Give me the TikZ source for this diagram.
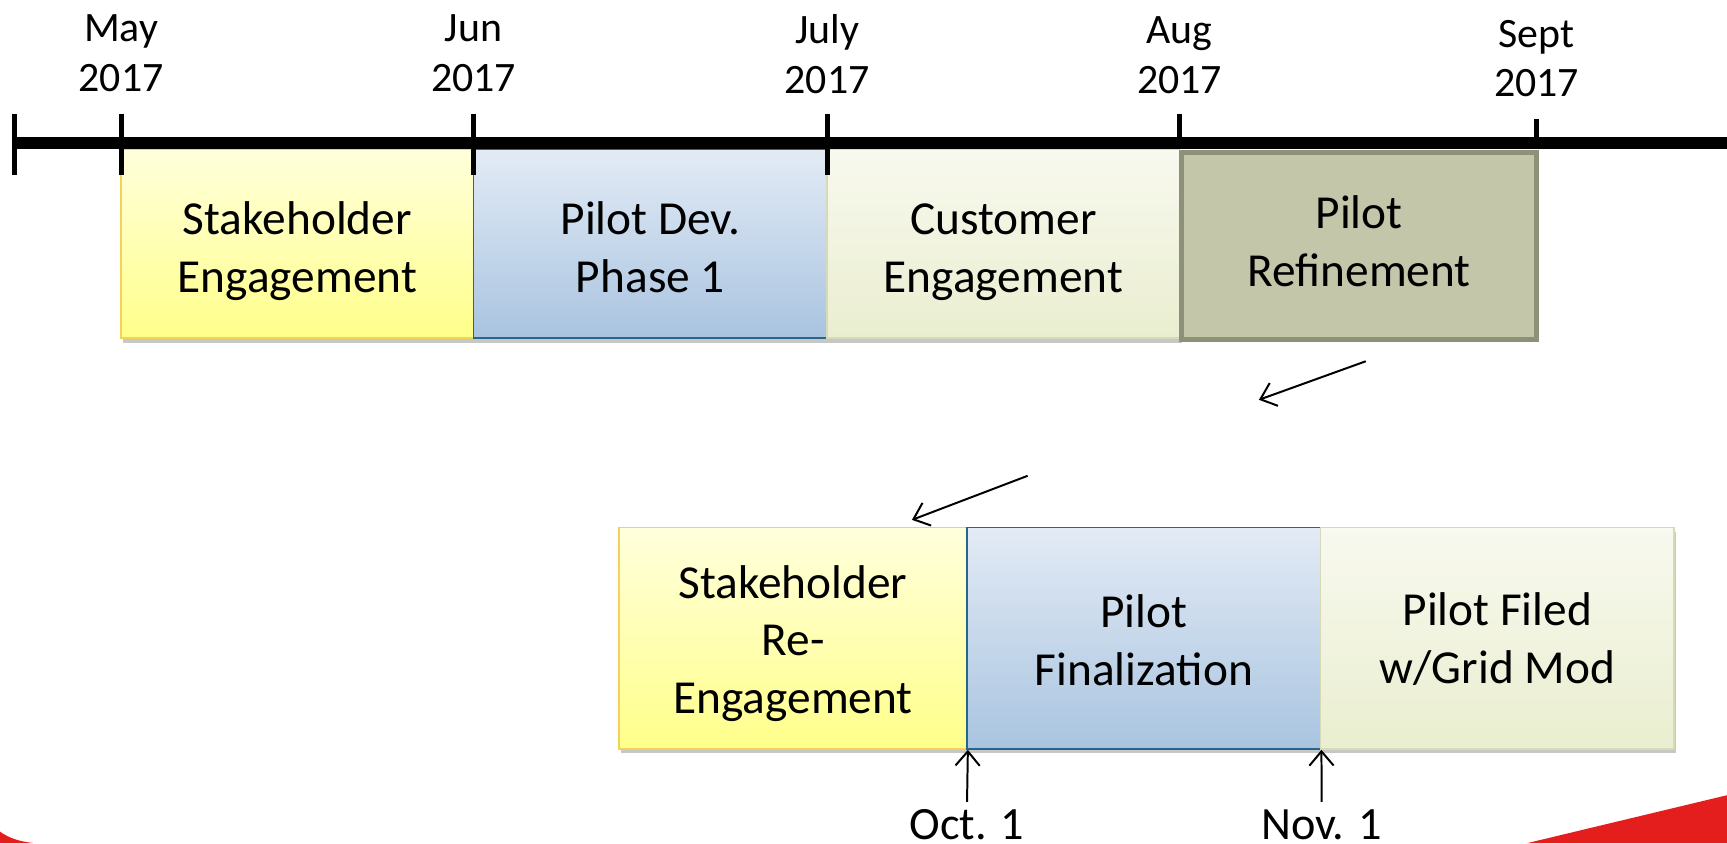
\documentclass[tikz,border=0pt]{standalone}
\usepackage{fontspec}
\setmainfont{Carlito}
\usetikzlibrary{arrows.meta,shadows}
\definecolor{ytop}{HTML}{FFFFDC}
\definecolor{ybot}{HTML}{FFFF8A}
\definecolor{ybord}{HTML}{F2D257}
\definecolor{btop}{HTML}{E3EBF5}
\definecolor{bbot}{HTML}{A9C4E0}
\definecolor{bbord}{HTML}{24678A}
\definecolor{gtop}{HTML}{F8F9EF}
\definecolor{gbot}{HTML}{EAEECF}
\definecolor{gbord}{HTML}{D6DAB8}
\definecolor{rfill}{HTML}{C4C6AA}
\definecolor{rbord}{HTML}{8E907A}
\definecolor{swoosh}{HTML}{E31E1C}
\newcommand\firstht[1]{\rule{0pt}{#1pt}}
\newcommand\lastdp{\rule[-15pt]{0pt}{0pt}}
\begin{document}
\begin{tikzpicture}[x=1pt,y=-1pt,
  boxtext/.style={font=\fontsize{43}{52.5}\selectfont, align=center, inner sep=0pt},
  shade/.style={drop shadow={shadow xshift=2pt, shadow yshift=-4pt, opacity=0.22, fill=black}},
  ybox/.style={boxtext, shade, draw=ybord, line width=1.5pt, top color=ytop, bottom color=ybot},
  bbox/.style={boxtext, shade, draw=bbord, line width=1.5pt, top color=btop, bottom color=bbot},
  gbox/.style={boxtext, shade, draw=gbord, line width=1.5pt, top color=gtop, bottom color=gbot},
  rbox/.style={boxtext, draw=rbord, line width=4.5pt, fill=rfill},
  month/.style={font=\fontsize{38}{45}\selectfont, align=center, inner sep=0pt},
  datelbl/.style={font=\fontsize{42}{50}\selectfont, inner sep=0pt, anchor=base},
  arr/.style={line width=1.8pt, -{Straight Barb[length=13pt,width=22pt,line width=1.8pt]}},
  axis/.style={line width=11pt},
  tick/.style={line width=4.5pt}
]
\useasboundingbox (0,0) rectangle (1568,765.4);

% red swoosh fragments
\fill[swoosh] (1387,765.4) -- (1568,722) -- (1568,765.4) -- cycle;
\fill[swoosh] (0,755) .. controls (8,761) and (18,764) .. (30,765.4) -- (0,765.4) -- cycle;

% top row
\node[ybox, minimum width=320pt, minimum height=172pt] (se) at (270,221) {\firstht{51.5}Stakeholder\\Engagement\lastdp};
\node[bbox, minimum width=321pt, minimum height=172pt] (pd) at (590.5,221) {\firstht{51.5}Pilot Dev.\\Phase 1\lastdp};
\node[gbox, minimum width=320pt, minimum height=172pt] (ce) at (911,221) {\firstht{51.5}Customer\\Engagement\lastdp};
\node[rbox, minimum width=322pt, minimum height=170pt] (pr) at (1234,223.3) {\firstht{36}Pilot\\Refinement\lastdp};

% timeline
\draw[axis] (13,129.8) -- (1568,129.8);
\draw[tick] (13,103.5) -- (13,159);
\draw[tick] (110,103.5) -- (110,159);
\draw[tick] (430,103.5) -- (430,159);
\draw[tick] (751,103.5) -- (751,159);
\draw[tick] (1071,103.5) -- (1071,134);
\draw[tick] (1395,108) -- (1395,134);

% month labels
\node[month] (m1) at (110,48.3) {May\\2017};
\node[month] (m2) at (430,48.3) {Jun\\2017};
\node[month] (m3) at (751,49) {July\\2017};
\node[month] (m4) at (1071,50) {Aug\\2017};
\node[month] (m5) at (1395,53) {Sept\\2017};

% bottom row
\node[ybox, minimum width=316pt, minimum height=201pt] (sr) at (720,579.5) {\firstht{47}Stakeholder\\Re-\\Engagement\lastdp};
\node[bbox, minimum width=321pt, minimum height=201pt] (pf) at (1038.5,579.5) {\firstht{48.5}Pilot\\Finalization\lastdp};
\node[gbox, minimum width=321pt, minimum height=201pt] (pg) at (1359.5,579.5) {\firstht{44.5}Pilot Filed\\w/Grid Mod\lastdp};

% free arrows
\coordinate (a1s) at (1240,328);
\coordinate (a1e) at (1143,363);
\coordinate (a2s) at (933,432);
\coordinate (a2e) at (828,472);
\draw[arr] (a1s) -- (a1e);
\draw[arr] (a2s) -- (a2e);

% date labels and arrows
\node[datelbl] (oct) at (878,762.5) {Oct. 1};
\node[datelbl] (nov) at (1200,762.5) {Nov. 1};
\coordinate (octs) at (878,728);
\coordinate (novs) at (1200,728);
\draw[arr] (octs) -- (sr.south east);
\draw[arr] (novs) -- (pf.south east);
\end{tikzpicture}
\end{document}
